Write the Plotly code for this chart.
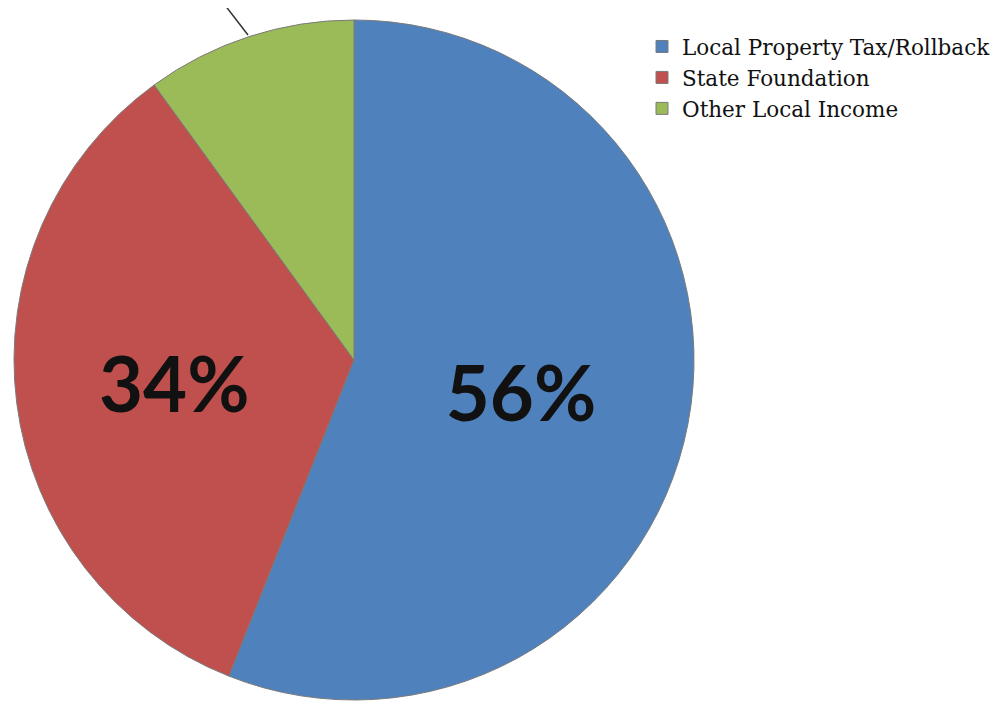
import plotly.graph_objects as go

labels = ["Local Property Tax/Rollback", "State Foundation", "Other Local Income"]
values = [56, 34, 10]
colors = ["#4F81BD", "#C0504D", "#9BBB59"]
text_templates = ["%{percent:.0%}", "%{percent:.0%}", ""]

# page has an 8px body margin; size the figure so it fits the 998x701 window
W, H = 990, 693
OFF = 8

def px_x(x):
    return (x - OFF) / W

def px_y(y):
    return 1 - (y - OFF) / H

fig = go.Figure(go.Pie(
    labels=labels,
    values=values,
    sort=False,
    direction="clockwise",
    rotation=0,
    marker=dict(colors=colors, line=dict(color="#7a7a7a", width=1)),
    texttemplate=text_templates,
    textposition="inside",
    insidetextorientation="horizontal",
    insidetextfont=dict(family="Lato", size=76, color="#111111", weight="bold"),
    hoverinfo="label+percent",
    domain=dict(x=[px_x(14), px_x(694)], y=[px_y(700), px_y(20)]),
    automargin=False,
))

# leader line of the (cropped) outside label for the green slice
fig.add_shape(type="line", xref="paper", yref="paper",
              x0=px_x(221), y0=px_y(0), x1=px_x(248), y1=px_y(35),
              line=dict(color="#333333", width=1.5))

fig.update_layout(
    width=W, height=H,
    margin=dict(l=0, r=0, t=0, b=0),
    paper_bgcolor="white",
    plot_bgcolor="white",
    showlegend=True,
    legend=dict(
        x=px_x(642), y=px_y(26), xanchor="left", yanchor="top",
        font=dict(family="DejaVu Serif", size=21.5, color="#111111"),
        tracegroupgap=0, itemwidth=30,
        bgcolor="rgba(0,0,0,0)",
    ),
)

fig.write_html("out.html")
